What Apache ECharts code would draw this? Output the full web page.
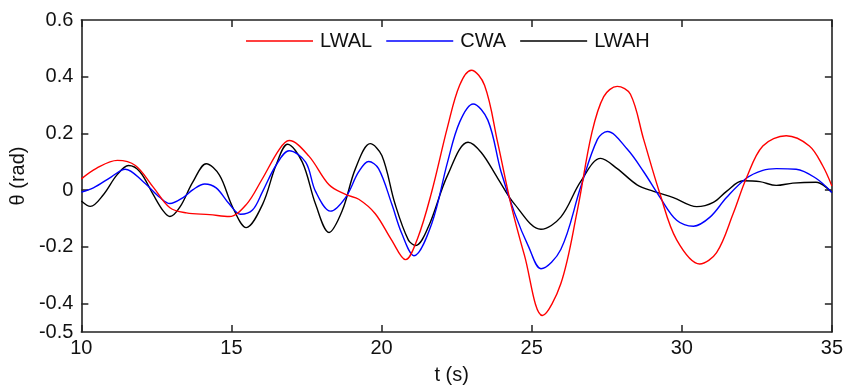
<!DOCTYPE html>
<html>
<head>
<meta charset="utf-8">
<script src="https://cdn.jsdelivr.net/npm/echarts@6/dist/echarts.min.js"></script>
<style>
html,body{margin:0;padding:0;background:#fff;}
#chart{width:846px;height:390px;}
</style>
</head>
<body>
<div id="chart"></div>
<script>
// ---- data ----
const seriesNames = ['LWAL', 'CWA', 'LWAH'];

const tLWAL = [10, 10.5, 11.2, 11.8, 12.4, 12.95, 13.5, 14.27, 14.93, 15.5, 16.0, 16.6, 16.92, 17.58, 18.25, 18.8, 19.24, 19.79, 20.33, 20.8, 21.2, 21.66, 22.2, 22.6, 22.99, 23.43, 23.87, 24.31, 24.76, 25.36, 25.97, 26.52, 27.0, 27.4, 27.85, 28.29, 28.73, 29.28, 29.83, 30.6, 31.16, 31.71, 32.15, 32.7, 33.48, 34.25, 34.69, 35];
const vLWAL = [0.04, 0.077, 0.105, 0.087, 0.01, -0.062, -0.08, -0.086, -0.093, -0.05, 0.035, 0.145, 0.175, 0.12, 0.019, -0.015, -0.032, -0.083, -0.175, -0.245, -0.17, -0.01, 0.224, 0.37, 0.423, 0.37, 0.167, -0.05, -0.23, -0.442, -0.33, -0.072, 0.2, 0.33, 0.366, 0.338, 0.179, -0.015, -0.175, -0.26, -0.22, -0.083, 0.042, 0.156, 0.192, 0.156, 0.087, 0.015];

const tCWA = [10, 10.4, 11.0, 11.46, 12.06, 12.62, 12.95, 13.39, 13.72, 14.11, 14.49, 14.93, 15.3, 15.7, 16.04, 16.48, 16.92, 17.47, 17.8, 18.3, 18.8, 19.24, 19.57, 19.9, 20.34, 20.67, 21.08, 21.67, 22.2, 22.6, 23.05, 23.54, 23.98, 24.43, 24.9, 25.31, 25.97, 26.63, 27.19, 27.52, 28.18, 28.73, 29.28, 29.83, 30.39, 30.94, 31.49, 32.15, 32.7, 33.15, 33.81, 34.47, 35];
const vCWA = [-0.007, 0.008, 0.047, 0.074, 0.03, -0.026, -0.047, -0.026, 0.002, 0.022, 0.008, -0.049, -0.085, -0.07, -0.004, 0.087, 0.139, 0.099, -0.004, -0.074, -0.026, 0.065, 0.101, 0.076, -0.049, -0.152, -0.231, -0.118, 0.1, 0.24, 0.304, 0.247, 0.065, -0.08, -0.2, -0.277, -0.209, 0.01, 0.179, 0.207, 0.145, 0.065, -0.026, -0.106, -0.127, -0.095, -0.026, 0.042, 0.07, 0.076, 0.074, 0.042, -0.008];

const tLWAH = [10, 10.3, 10.74, 11.18, 11.57, 11.95, 12.39, 12.72, 12.95, 13.28, 13.72, 14.16, 14.6, 15.04, 15.49, 16.04, 16.48, 16.87, 17.36, 17.8, 18.25, 18.69, 19.13, 19.62, 20.01, 20.45, 20.89, 21.14, 21.56, 22.2, 22.88, 23.32, 23.87, 24.43, 25.31, 25.97, 26.63, 27.3, 27.85, 28.51, 29.06, 29.72, 30.5, 31.05, 31.49, 32.04, 32.6, 33.15, 33.7, 34.47, 35];
const vLWAH = [-0.038, -0.057, -0.015, 0.053, 0.087, 0.065, -0.015, -0.072, -0.093, -0.06, 0.03, 0.093, 0.053, -0.06, -0.132, -0.049, 0.087, 0.162, 0.099, -0.049, -0.149, -0.072, 0.076, 0.164, 0.122, -0.049, -0.175, -0.195, -0.129, 0.053, 0.169, 0.133, 0.042, -0.049, -0.138, -0.095, 0.03, 0.112, 0.076, 0.019, -0.004, -0.026, -0.058, -0.043, -0.004, 0.033, 0.03, 0.017, 0.025, 0.028, -0.008];

const yLabelValues = [-0.5, -0.4, -0.2, 0, 0.2, 0.4, 0.6];
const yTickValues = [-0.4, -0.2, 0, 0.2, 0.4];

// ---- chart ----
const FONT = '"Liberation Sans", Arial, sans-serif';
const AXIS_COLOR = '#222';
const zip = (t, v) => t.map((x, i) => [x, v[i]]);

const chart = echarts.init(document.getElementById('chart'), null, {renderer: 'canvas'});

const baseX = {
  type: 'value', min: 10, max: 35, interval: 5,
  axisLine: {show: true, onZero: false, lineStyle: {color: AXIS_COLOR, width: 1.6}},
  axisTick: {show: true, inside: true, length: 7, lineStyle: {color: AXIS_COLOR, width: 1.5}},
  splitLine: {show: false}
};
const baseY = {
  type: 'value', min: -0.5, max: 0.6,
  axisLine: {show: true, onZero: false, lineStyle: {color: AXIS_COLOR, width: 1.6}},
  axisTick: {show: true, inside: true, length: 7, customValues: yTickValues, lineStyle: {color: AXIS_COLOR, width: 1.5}},
  splitLine: {show: false}
};

const colors = ['#ff0000', '#0000ff', '#000000'];
const datasets = [zip(tLWAL, vLWAL), zip(tCWA, vCWA), zip(tLWAH, vLWAH)];

chart.setOption({
  animation: false,
  backgroundColor: '#fff',
  textStyle: {fontFamily: FONT},
  grid: {left: 81, right: 10, top: 20, bottom: 48, containLabel: false},
  legend: {
    left: 246, top: 31, padding: 0,
    icon: 'rect', itemWidth: 67, itemHeight: 1.5, itemGap: 14,
    textStyle: {fontFamily: FONT, fontSize: 20, color: '#111', padding: [0, 0, 0, 2]},
    data: seriesNames
  },
  xAxis: [
    Object.assign({}, baseX, {
      position: 'bottom',
      name: 't (s)', nameLocation: 'middle', nameGap: 33,
      nameTextStyle: {fontFamily: FONT, fontSize: 20, color: '#111', padding: [0, 10, 0, 0]},
      axisLabel: {show: true, margin: 6, fontFamily: FONT, fontSize: 20, color: '#111'}
    }),
    Object.assign({}, baseX, {position: 'top', axisLabel: {show: false}})
  ],
  yAxis: [
    Object.assign({}, baseY, {
      position: 'left',
      name: 'θ (rad)', nameLocation: 'middle', nameGap: 46, nameRotate: 90,
      nameTextStyle: {fontFamily: FONT, fontSize: 20, color: '#111'},
      axisLabel: {show: true, margin: 8, customValues: yLabelValues, fontFamily: FONT, fontSize: 20, color: '#111'}
    }),
    Object.assign({}, baseY, {position: 'right', axisLabel: {show: false}})
  ],
  series: seriesNames.map((name, i) => ({
    name: name, type: 'line', xAxisIndex: 0, yAxisIndex: 0,
    data: datasets[i], smooth: 0.35, symbol: 'none', showSymbol: false,
    lineStyle: {color: colors[i], width: 1.4}, itemStyle: {color: colors[i]},
    z: 3 - i
  }))
});
</script>
</body>
</html>
